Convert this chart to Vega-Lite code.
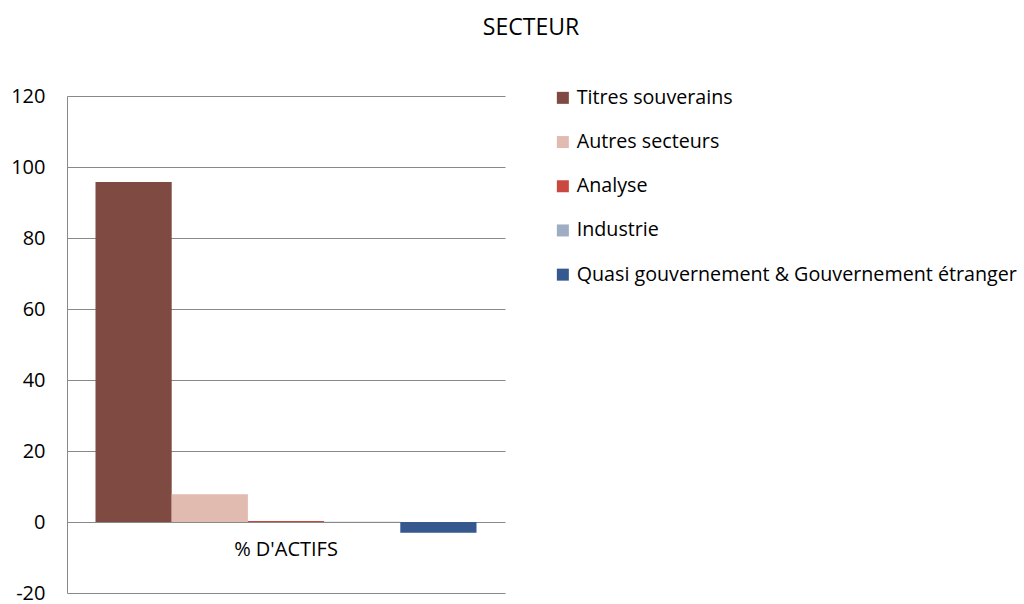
{
  "$schema": "https://vega.github.io/schema/vega-lite/v6.json",
  "width": 438,
  "height": 497,
  "autosize": {"type": "none"},
  "padding": {"left": 67, "top": 96, "right": 519, "bottom": 11},
  "background": "white",
  "config": {
    "view": {"stroke": null},
    "font": "Open Sans"
  },
  "title": {
    "text": "SECTEUR",
    "anchor": "middle",
    "frame": "group",
    "dx": 245,
    "offset": 23,
    "baseline": "bottom",
    "font": "Open Sans",
    "fontSize": 23,
    "fontWeight": "normal",
    "color": "#000000"
  },
  "data": {
    "values": [
      {"categorie": "% D'ACTIFS", "secteur": "Titres souverains", "valeur": 95.8},
      {"categorie": "% D'ACTIFS", "secteur": "Autres secteurs", "valeur": 7.8},
      {"categorie": "% D'ACTIFS", "secteur": "Analyse", "valeur": 0.3},
      {"categorie": "% D'ACTIFS", "secteur": "Industrie", "valeur": 0.1},
      {"categorie": "% D'ACTIFS", "secteur": "Quasi gouvernement & Gouvernement étranger", "valeur": -3.0}
    ]
  },
  "layer": [
    {
      "mark": {"type": "bar"},
      "encoding": {
        "x": {
          "field": "categorie",
          "type": "nominal",
          "axis": null,
          "scale": {"paddingInner": 0, "paddingOuter": 0.0748}
        },
        "xOffset": {
          "field": "secteur",
          "type": "nominal",
          "sort": ["Titres souverains", "Autres secteurs", "Analyse", "Industrie", "Quasi gouvernement & Gouvernement étranger"],
          "scale": {"paddingInner": 0, "paddingOuter": 0}
        },
        "y": {
          "field": "valeur",
          "type": "quantitative",
          "scale": {"domain": [-20, 120], "nice": false, "zero": false},
          "axis": {
            "title": null,
            "values": [-20, 0, 20, 40, 60, 80, 100, 120],
            "labelExpr": "toString(datum.value)",
            "grid": true,
            "gridColor": "#898989",
            "gridWidth": 1,
            "domain": true,
            "domainColor": "#898989",
            "ticks": false,
            "labelPadding": 22,
            "labelFont": "Open Sans",
            "labelFontSize": 20,
            "labelColor": "#000000"
          }
        },
        "color": {
          "field": "secteur",
          "type": "nominal",
          "sort": ["Titres souverains", "Autres secteurs", "Analyse", "Industrie", "Quasi gouvernement & Gouvernement étranger"],
          "scale": {
            "domain": ["Titres souverains", "Autres secteurs", "Analyse", "Industrie", "Quasi gouvernement & Gouvernement étranger"],
            "range": ["#7f4a41", "#e1bbb0", "#cb4840", "#9eadc4", "#35598e"]
          },
          "legend": {
            "title": null,
            "orient": "none",
            "legendX": 486,
            "legendY": -8,
            "symbolType": "square",
            "symbolSize": 144,
            "symbolStrokeWidth": 0,
            "symbolOpacity": 1,
            "labelFont": "Open Sans",
            "labelFontSize": 19.7,
            "labelColor": "#000000",
            "labelOffset": 4,
            "rowPadding": 23.2,
            "labelLimit": 600
          }
        }
      }
    },
    {
      "mark": {"type": "text", "font": "Open Sans", "fontSize": 20, "color": "#000000", "baseline": "middle", "align": "center"},
      "encoding": {
        "x": {"field": "categorie", "type": "nominal"},
        "y": {"datum": -8},
        "text": {"field": "categorie"}
      },
      "transform": [{"filter": "datum.secteur == 'Titres souverains'"}]
    }
  ]
}
